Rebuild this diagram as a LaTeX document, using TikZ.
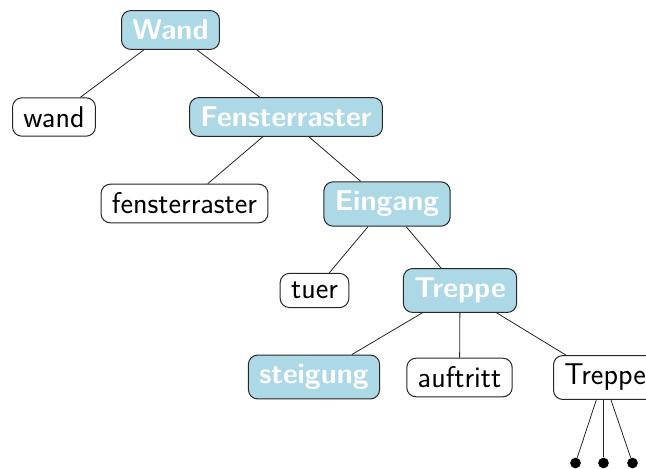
\documentclass[tikz,border=0pt]{standalone}
\usetikzlibrary{backgrounds}
\definecolor{lightblue}{RGB}{173,216,230}
\begin{document}
\begin{tikzpicture}[x=0.75pt,y=-0.75pt,
  every node/.style={font=\sffamily\fontsize{22.5}{27}\selectfont},
  box/.style={draw=black!85, line width=0.75pt, rounded corners=7pt, inner xsep=8.2pt, inner ysep=6.5pt, fill=white, text=black},
  hl/.style={box, fill=lightblue, text=white, inner ysep=7pt, font=\sffamily\bfseries\fontsize{21.5}{26}\selectfont},
  edge/.style={draw=black!85, line width=0.6pt},
  dot/.style={circle, fill=black, inner sep=0pt, minimum size=8pt}]
\useasboundingbox (0,0) rectangle (646,468);
\clip (0,0) rectangle (646,468);
\node[hl]  (Wand)  at (170.5,30)  {Wand};
\node[box] (wand)  at (54,117)    {wand};
\node[hl]  (Fens)  at (286,117)   {Fensterraster};
\node[box] (fens)  at (184.5,203.5) {fensterraster};
\node[hl]  (Eing)  at (387,204)   {Eingang};
\node[box] (tuer)  at (314.5,290.5) {tuer};
\node[hl]  (Trep)  at (460,290.5) {Treppe};
\node[hl]  (steig) at (314,377)   {steigung};
\node[box] (auft)  at (459.5,377.5) {auftritt};
\node[box, anchor=west] (Trep2) at (553,377.5) {Treppe};
\coordinate (hub) at (603.5,378);
\node[dot] (d1) at (575.5,463) {};
\node[dot] (d2) at (603.5,463) {};
\node[dot] (d3) at (632.5,463) {};
\draw[edge] (Wand) -- (wand);
\draw[edge] (Wand) -- (Fens);
\draw[edge] (Fens) -- (fens);
\draw[edge] (Fens) -- (Eing);
\draw[edge] (Eing) -- (tuer);
\draw[edge] (Eing) -- (Trep);
\draw[edge] (Trep) -- (steig);
\draw[edge] (Trep) -- (auft);
\begin{scope}[on background layer]
\draw[edge] (Trep.center) -- (hub);
\draw[edge] (hub) -- (d1);
\draw[edge] (hub) -- (d2);
\draw[edge] (hub) -- (d3);
\end{scope}
\end{tikzpicture}
\end{document}
